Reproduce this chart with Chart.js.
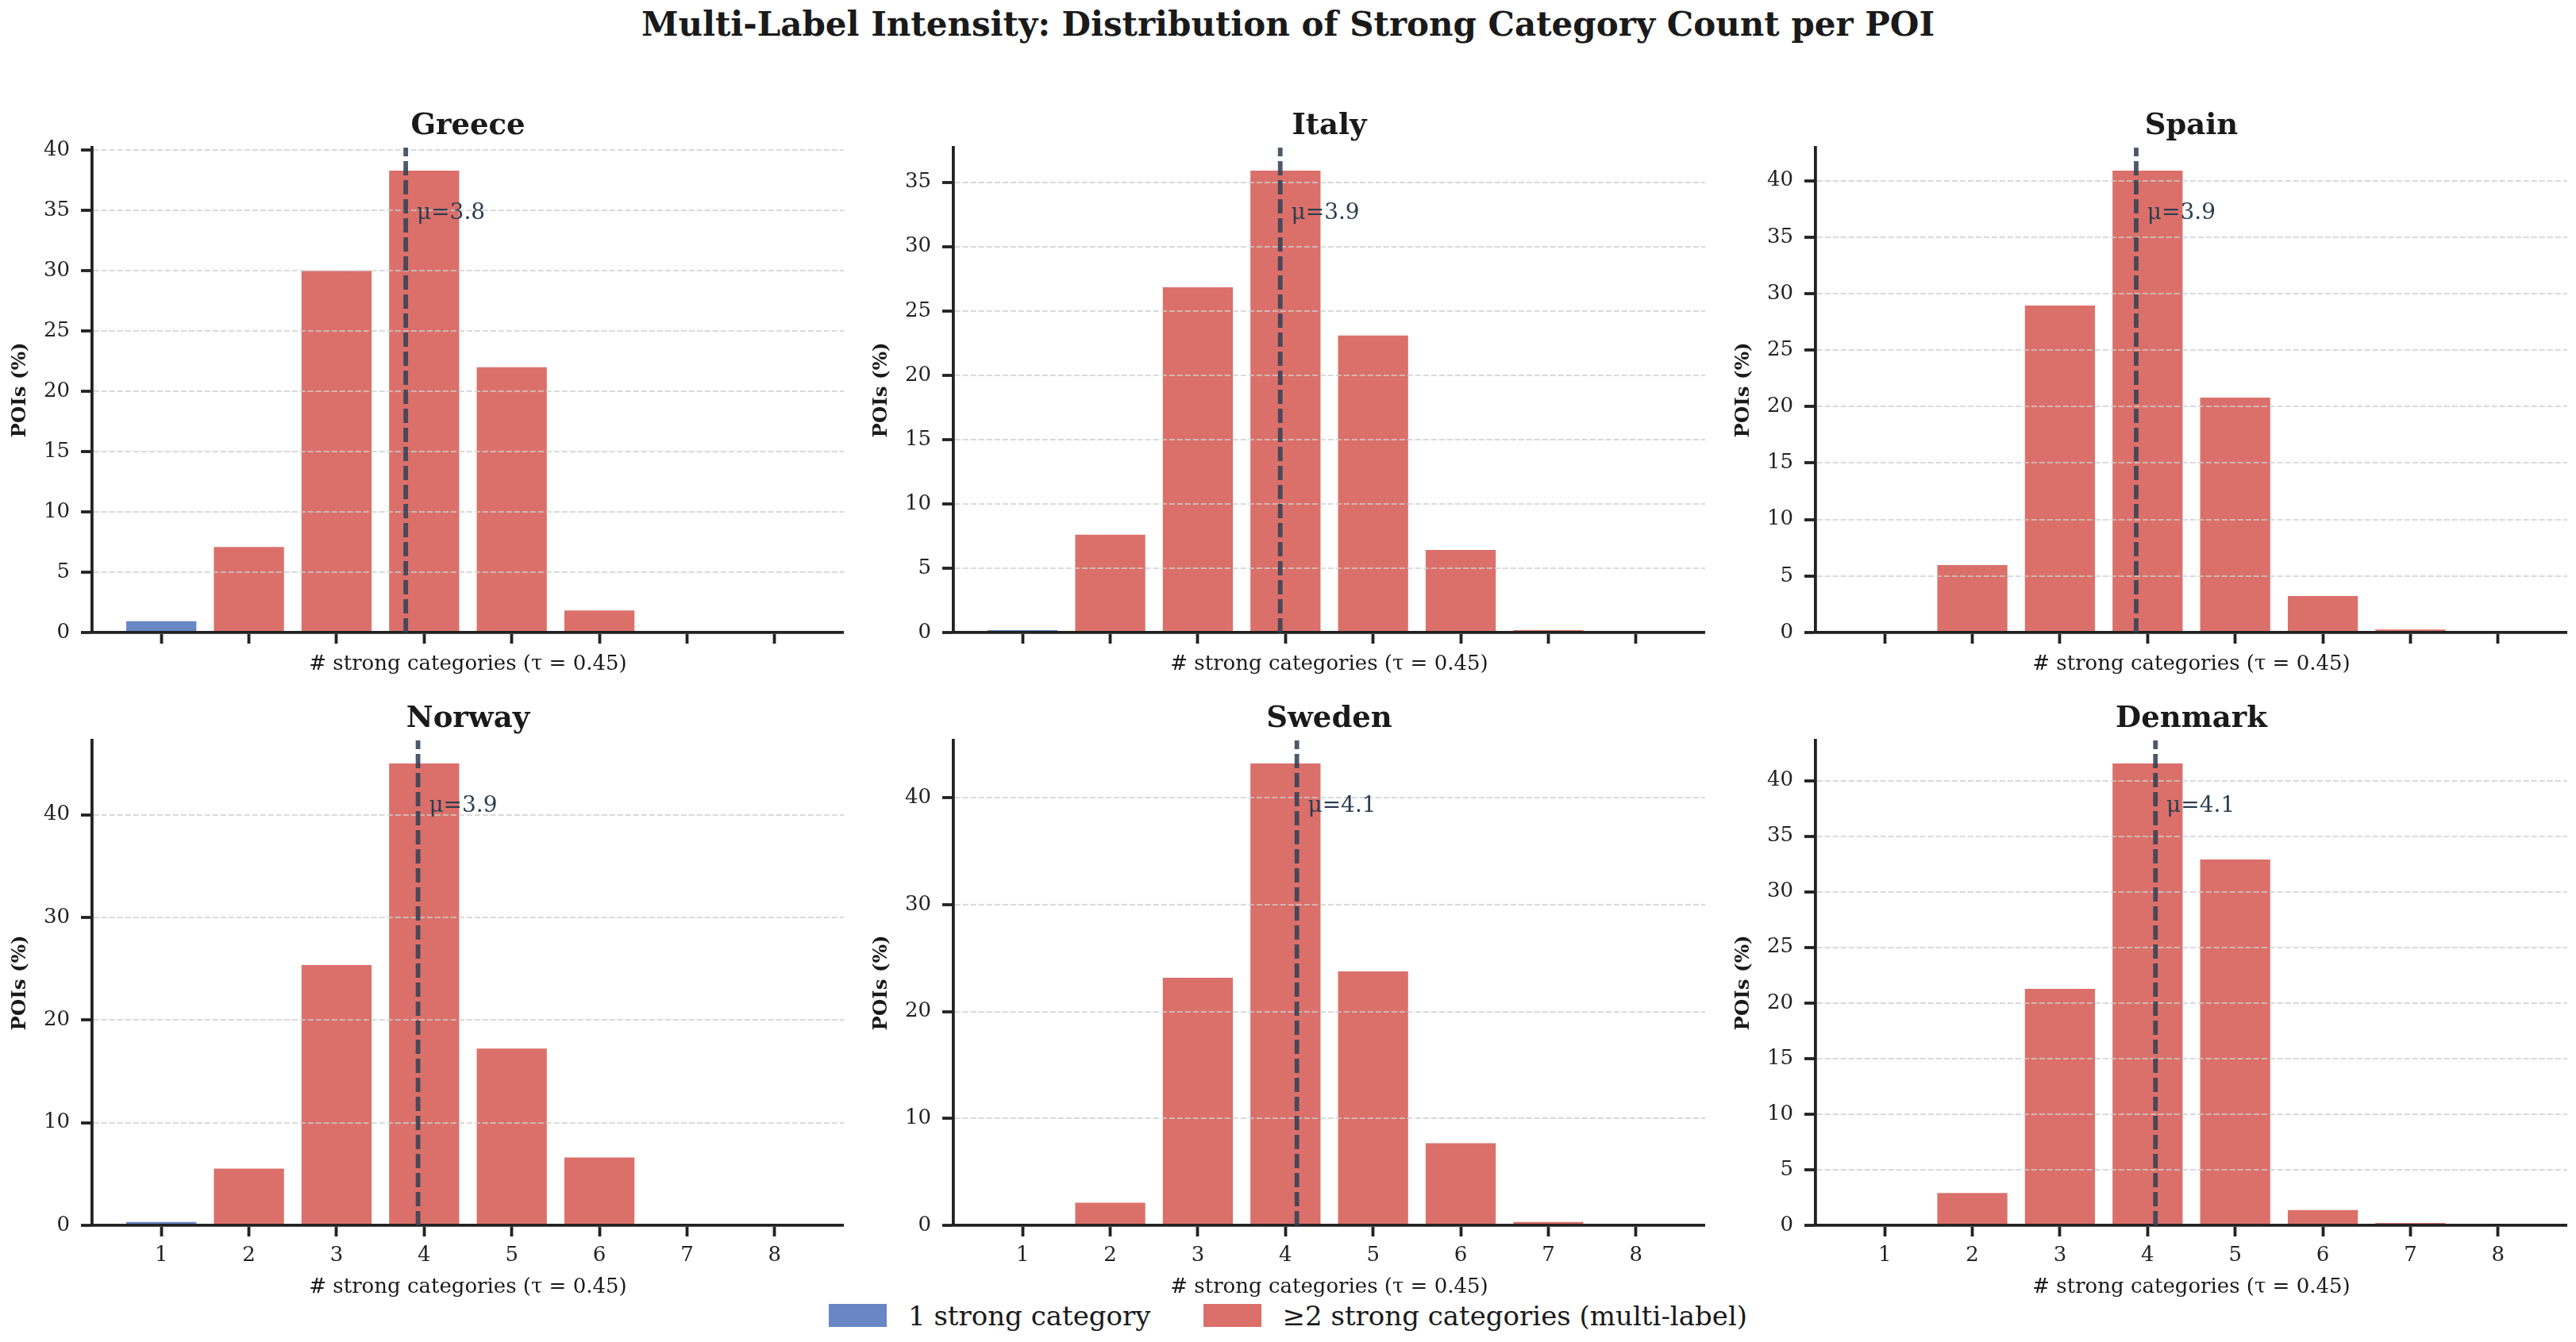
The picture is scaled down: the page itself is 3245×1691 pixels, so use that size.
<!DOCTYPE html>
<html>
<head>
<meta charset="utf-8">
<script src="https://cdn.jsdelivr.net/npm/chart.js@4.4.1/dist/chart.umd.min.js"></script>
<style>
html,body{margin:0;padding:0;background:#fff;}
body{width:3245px;height:1691px;position:relative;overflow:hidden;font-family:'DejaVu Serif',serif;}
#title{position:absolute;left:0;top:6px;width:3245px;text-align:center;font-weight:bold;font-size:42px;line-height:50px;color:#1a1a1a;}
canvas{position:absolute;}
#legend{position:absolute;left:0;top:1643px;width:3245px;height:29px;display:flex;justify-content:center;align-items:center;font-size:34px;color:#1a1a1a;}
.item{display:flex;align-items:center;margin:0 33px;white-space:nowrap;}
.sw{display:inline-block;width:73px;height:29px;margin-right:27px;}
</style>
</head>
<body>
<div id="title">Multi-Label Intensity: Distribution of Strong Category Count per POI</div>
<div id="legend"></div>
<script>
// ---- data ----
const categories = [1, 2, 3, 4, 5, 6, 7, 8];
const countries = ['Greece', 'Italy', 'Spain', 'Norway', 'Sweden', 'Denmark'];
const greece  = [0.93, 7.10, 30.00, 38.30, 22.00, 1.82, 0.00, 0.00];
const italy   = [0.19, 7.60, 26.84, 35.90, 23.09, 6.42, 0.19, 0.00];
const spain   = [0.00, 5.98, 28.95, 40.88, 20.80, 3.24, 0.27, 0.00];
const norway  = [0.33, 5.52, 25.35, 44.98, 17.22, 6.60, 0.00, 0.00];
const sweden  = [0.00, 2.11, 23.15, 43.19, 23.75, 7.69, 0.32, 0.00];
const denmark = [0.00, 2.91, 21.26, 41.53, 32.91, 1.38, 0.21, 0.00];
const means = [3.79, 3.94, 3.87, 3.93, 4.13, 4.09];
const yTickSteps = [5, 5, 5, 10, 10, 5];
const seriesNames = ['1 strong category', '≥2 strong categories (multi-label)'];
const xAxisTitle = '# strong categories (τ = 0.45)';
const yAxisTitle = 'POIs (%)';

const seriesValues = [greece, italy, spain, norway, sweden, denmark];

// ---- style ----
const BLUE = '#6887c4';
const RED = '#db706a';
const AXIS = '#222222';
const GRID = 'rgba(205,205,205,0.75)';
const FONT = "'DejaVu Serif', serif";
Chart.defaults.font.family = FONT;
Chart.defaults.font.lineHeight = 1.2;
Chart.defaults.color = '#222222';

const colLeft = [0, 1085, 2171];
const rowTop = [120, 867];
const rowHeight = [737, 777];
const panelWidth = 1063;

const meanPlugin = {
  id: 'meanLine',
  afterDraw(chart, args, opts) {
    const {ctx, chartArea, scales} = chart;
    const x = scales.x.getPixelForValue(opts.mean);
    ctx.save();
    ctx.strokeStyle = 'rgba(52,65,85,0.88)';
    ctx.lineWidth = 5.8;
    ctx.setLineDash([18, 6]);
    ctx.beginPath();
    ctx.moveTo(x, chartArea.bottom);
    ctx.lineTo(x, chartArea.top);
    ctx.stroke();
    ctx.setLineDash([]);
    ctx.fillStyle = '#2c3e50';
    ctx.font = '28px ' + FONT;
    ctx.textBaseline = 'middle';
    ctx.textAlign = 'left';
    const tx = scales.x.getPixelForValue(opts.mean + 0.125);
    const ty = chartArea.top + 0.135 * (chartArea.bottom - chartArea.top);
    ctx.fillText('μ=' + opts.mean.toFixed(1), tx, ty);
    ctx.restore();
  }
};

function makePanel(i) {
  const row = Math.floor(i / 3), col = i % 3;
  const bottomRow = row === 1;
  const vals = seriesValues[i];
  const canvas = document.createElement('canvas');
  canvas.width = panelWidth;
  canvas.height = rowHeight[row];
  canvas.style.left = colLeft[col] + 'px';
  canvas.style.top = rowTop[row] + 'px';
  canvas.style.width = panelWidth + 'px';
  canvas.style.height = rowHeight[row] + 'px';
  document.body.appendChild(canvas);
  const ymax = Math.max(...vals) * 1.05;
  const step = yTickSteps[i];
  new Chart(canvas, {
    type: 'bar',
    data: {
      datasets: [
        {
          label: seriesNames[0],
          data: [{x: categories[0], y: vals[0]}],
          backgroundColor: BLUE, borderWidth: 0, grouped: false,
          barPercentage: 0.8, categoryPercentage: 1.0
        },
        {
          label: seriesNames[1],
          data: categories.slice(1).map((k, j) => ({x: k, y: vals[j + 1]})),
          backgroundColor: RED, borderWidth: 0, grouped: false,
          barPercentage: 0.8, categoryPercentage: 1.0
        }
      ]
    },
    options: {
      responsive: false,
      animation: false,
      devicePixelRatio: 1,
      layout: {padding: 0},
      plugins: {
        legend: {display: false},
        tooltip: {enabled: false},
        title: {
          display: true, text: countries[i], fullSize: false, color: '#1a1a1a',
          font: {size: 37, weight: 'bold', family: FONT, lineHeight: 1.2},
          padding: {top: 16.8, bottom: 4.8}
        },
        meanLine: {mean: means[i]}
      },
      scales: {
        x: {
          type: 'linear', min: 0.21, max: 8.79, offset: false,
          afterBuildTicks: s => { s.ticks = categories.map(v => ({value: v})); },
          afterFit: s => { s.height = bottomRow ? 100 : 60; },
          grid: {offset: false, drawOnChartArea: false, drawTicks: true, tickLength: 14, tickWidth: 3.8, tickColor: AXIS, z: 1},
          border: {display: true, color: AXIS, width: 3.8, z: 2},
          ticks: {display: bottomRow, padding: 8.9, font: {size: 26}, color: AXIS, maxRotation: 0},
          title: {display: true, text: xAxisTitle, color: '#1a1a1a', font: {size: 26}, padding: {top: 0, bottom: bottomRow ? 5.9 : 4.4}}
        },
        y: {
          type: 'linear', min: 0, max: ymax,
          afterBuildTicks: s => { const t = []; for (let v = 0; v <= s.max + 1e-9; v += step) t.push({value: v}); s.ticks = t; },
          afterFit: s => { s.width = 116; },
          grid: {color: GRID, lineWidth: 2, drawTicks: true, tickLength: 14, tickWidth: 3.8, tickColor: AXIS, tickBorderDash: [], z: 1},
          border: {display: true, color: AXIS, width: 3.8, dash: [7, 3], z: 2},
          ticks: {padding: 14, font: {size: 26}, color: AXIS},
          title: {display: true, text: yAxisTitle, color: '#1a1a1a', font: {size: 24.5, weight: 'bold'}, padding: {top: 11.3, bottom: 0}}
        }
      }
    },
    plugins: [meanPlugin]
  });
}

for (let i = 0; i < countries.length; i++) makePanel(i);

// figure legend
const legend = document.getElementById('legend');
[BLUE, RED].forEach((c, k) => {
  const item = document.createElement('div');
  item.className = 'item';
  const sw = document.createElement('span');
  sw.className = 'sw';
  sw.style.background = c;
  const tx = document.createElement('span');
  tx.textContent = seriesNames[k];
  item.appendChild(sw);
  item.appendChild(tx);
  legend.appendChild(item);
});
</script>
</body>
</html>
